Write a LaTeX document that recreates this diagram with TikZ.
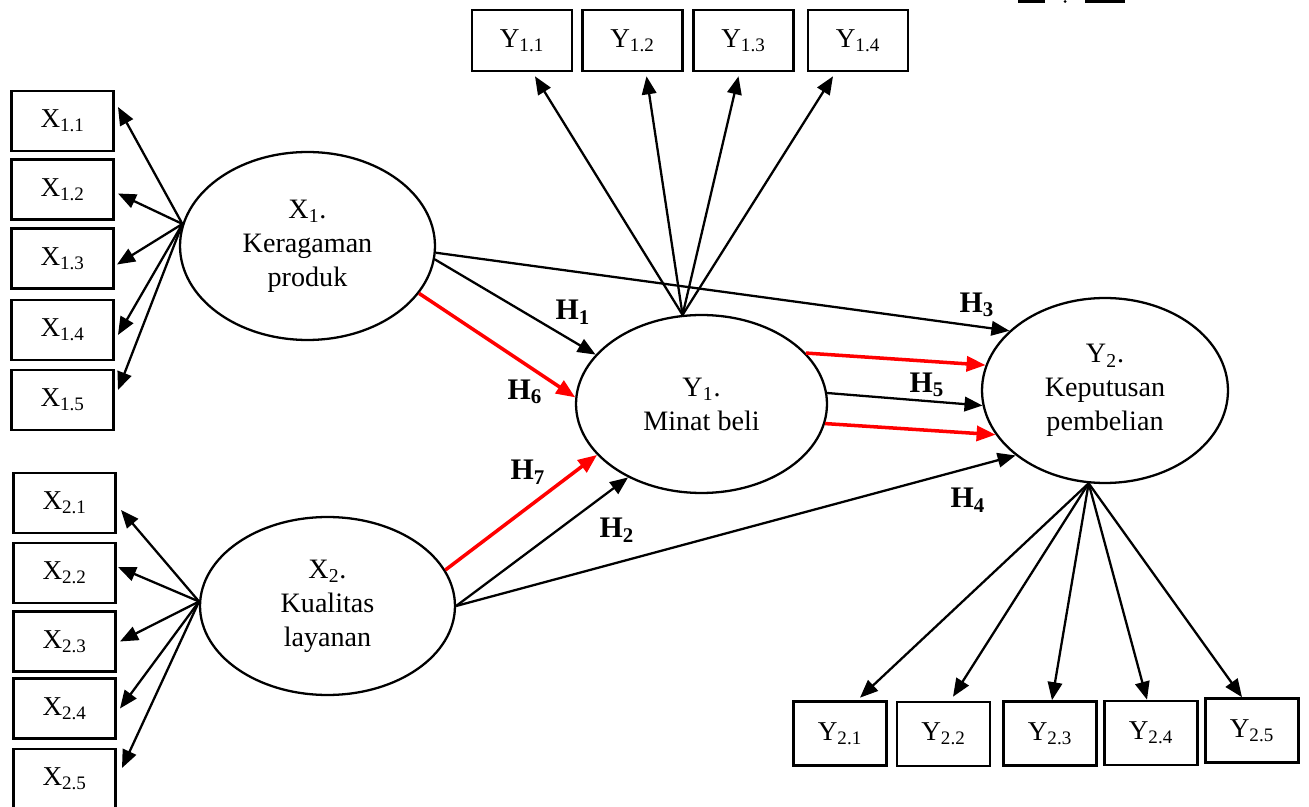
\documentclass[tikz,border=0pt]{standalone}
\usepackage{fontspec}
\setmainfont{Liberation Serif}
\usetikzlibrary{shapes,arrows.meta,positioning,calc}

\tikzset{
  indicator/.style={draw, line width=1.5pt, minimum width=2.04cm, minimum height=1.2cm, inner sep=0pt, font=\fontsize{15.5}{18}\selectfont},
  latent/.style={draw, ellipse, line width=1.3pt, inner sep=0pt, align=center, font=\fontsize{16}{19.4}\selectfont},
  load/.style={line width=1.3pt, -{Triangle[length=0.36cm,width=0.29cm]}},
  hypred/.style={red, line width=2pt, -{Triangle[length=0.38cm,width=0.3cm]}},
  hlabel/.style={font=\fontsize{17}{20}\selectfont\bfseries}
}

\begin{document}
\begin{tikzpicture}[x=0.02cm,y=-0.02cm]
    \useasboundingbox (0,0) rectangle (1309,807);

    % latent variables
    \node[latent, minimum width=5.1cm, minimum height=3.76cm] (x1) at (307.5,246) {X\textsubscript{1}.\\Keragaman\\produk};
    \node[latent, minimum width=5.1cm, minimum height=3.56cm] (x2) at (327.5,606) {X\textsubscript{2}.\\Kualitas\\layanan};
    \node[latent, minimum width=5.02cm, minimum height=3.56cm] (y1) at (701.5,404) {Y\textsubscript{1}.\\Minat beli};
    \node[latent, minimum width=4.92cm, minimum height=3.7cm] (y2) at (1105,390.5) {Y\textsubscript{2}.\\Keputusan\\pembelian};

    % indicators X1
    \node[indicator, anchor=east] (x11) at (115,121) {X\textsubscript{1.1}};
    \node[indicator, anchor=east] (x12) at (115,189.5) {X\textsubscript{1.2}};
    \node[indicator, anchor=east] (x13) at (115,258.5) {X\textsubscript{1.3}};
    \node[indicator, anchor=east] (x14) at (115,330) {X\textsubscript{1.4}};
    \node[indicator, anchor=east] (x15) at (115,400) {X\textsubscript{1.5}};

    % indicators X2
    \node[indicator, anchor=east] (x21) at (117,503) {X\textsubscript{2.1}};
    \node[indicator, anchor=east] (x22) at (117,573) {X\textsubscript{2.2}};
    \node[indicator, anchor=east] (x23) at (117,641.5) {X\textsubscript{2.3}};
    \node[indicator, anchor=east] (x24) at (117,708.5) {X\textsubscript{2.4}};
    \node[indicator, anchor=east] (x25) at (117,779) {X\textsubscript{2.5}};

    % indicators Y1
    \node[indicator, minimum width=2cm, minimum height=1.22cm] (y11) at (522,40.5) {Y\textsubscript{1.1}};
    \node[indicator, minimum width=2cm, minimum height=1.22cm] (y12) at (632.5,40.5) {Y\textsubscript{1.2}};
    \node[indicator, minimum width=2cm, minimum height=1.22cm] (y13) at (743.5,40.5) {Y\textsubscript{1.3}};
    \node[indicator, minimum width=2cm, minimum height=1.22cm] (y14) at (858,40.5) {Y\textsubscript{1.4}};

    % indicators Y2
    \node[indicator, minimum width=1.86cm, minimum height=1.28cm] (y21) at (840,733.5) {Y\textsubscript{2.1}};
    \node[indicator, minimum width=1.86cm, minimum height=1.28cm] (y22) at (943.5,734) {Y\textsubscript{2.2}};
    \node[indicator, minimum width=1.86cm, minimum height=1.28cm] (y23) at (1050,733.5) {Y\textsubscript{2.3}};
    \node[indicator, minimum width=1.86cm, minimum height=1.28cm] (y24) at (1151,733) {Y\textsubscript{2.4}};
    \node[indicator, minimum width=1.86cm, minimum height=1.28cm] (y25) at (1252,730.5) {Y\textsubscript{2.5}};

    % hypothesis labels
    \node[hlabel] (h1) at (573,312) {H\textsubscript{1}};
    \node[hlabel] (h2) at (617,530) {H\textsubscript{2}};
    \node[hlabel] (h3) at (977,305) {H\textsubscript{3}};
    \node[hlabel] (h4) at (968,500) {H\textsubscript{4}};
    \node[hlabel] (h5) at (927,385) {H\textsubscript{5}};
    \node[hlabel] (h6) at (525,392) {H\textsubscript{6}};
    \node[hlabel] (h7) at (528,472) {H\textsubscript{7}};

    % loadings X1
    \draw[load] (x1.170) -- ([shift={(3,-14)}]x11.east);
    \draw[load] (x1.170) -- ([shift={(3,4)}]x12.east);
    \draw[load] (x1.170) -- ([shift={(2,6)}]x13.east);
    \draw[load] (x1.170) -- ([shift={(3,5)}]x14.east);
    \draw[load] (x1.170) -- ([shift={(3,-10)}]x15.east);

    % loadings X2
    \draw[load] (x2.178) -- ([shift={(4,7)}]x21.east);
    \draw[load] (x2.178) -- ([shift={(1,-6)}]x22.east);
    \draw[load] (x2.178) -- ([shift={(3,0)}]x23.east);
    \draw[load] (x2.178) -- ([shift={(3,0)}]x24.east);
    \draw[load] (x2.178) -- ([shift={(5,-11)}]x25.east);

    % loadings Y1
    \draw[load] (y1.102) -- ([shift={(13,4)}]y11.south);
    \draw[load] (y1.102) -- ([shift={(14,4)}]y12.south);
    \draw[load] (y1.102) -- ([shift={(-5,4)}]y13.south);
    \draw[load] (y1.102) -- ([shift={(-25,4)}]y14.south);

    % loadings Y2
    \draw[load] (y2.260) -- ([shift={(20,-2.5)}]y21.north);
    \draw[load] (y2.260) -- ([shift={(9.5,-4)}]y22.north);
    \draw[load] (y2.260) -- ([shift={(2,0)}]y23.north);
    \draw[load] (y2.260) -- ([shift={(-4,0)}]y24.north);
    \draw[load] (y2.260) -- ([shift={(-10,0)}]y25.north);

    % direct paths
    \draw[load] (x1.-3) -- (y2.148);
    \draw[load] (x1.-6) -- (y1.155);
    \draw[load] (x2.east) -- (y1.225);
    \draw[load] (x2.east) -- (y2.216);
    \draw[load] (y1.5) -- (y2.187);

    % mediated paths
    \draw[hypred] (x1.-23) -- (y1.177);
    \draw[hypred] (x2.17) -- (y1.206);
    \draw[hypred] (y1.26) -- (y2.168);
    \draw[hypred] (y1.-9) -- (y2.202);

    % cut-off marks at the top
    \fill (1018,0) rectangle (1045,3);
    \fill (1065,1.5) circle (1.5);
    \fill (1085,0) rectangle (1125,3);
\end{tikzpicture}
\end{document}
